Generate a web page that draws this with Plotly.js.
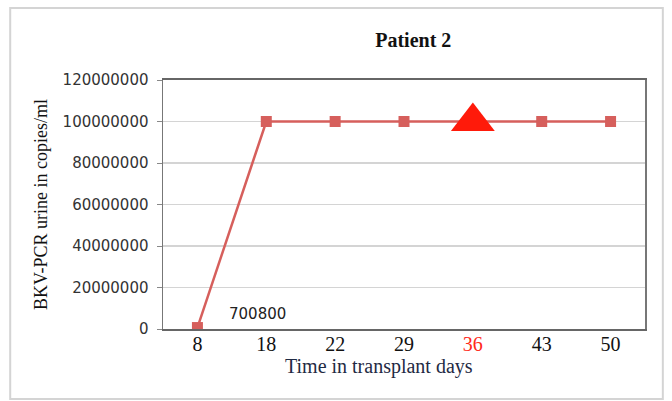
<!DOCTYPE html>
<html>
<head>
<meta charset="utf-8">
<script src="https://cdn.plot.ly/plotly-3.0.1.min.js"></script>
<style>
  html, body { margin: 0; padding: 0; background: #fff; }
  #chart { width: 672px; height: 401px; }
</style>
</head>
<body>
<div id="chart"></div>
<script>
"use strict";

// days after transplant (category axis) and BKV load in urine
const days = ["8", "18", "22", "29", "36", "43", "50"];
const copies = [700800, 100000000, 100000000, 100000000, 100000000, 100000000, 100000000];
const alertDays = ["36"];
const alertCopies = [100000000];
const yTicks = [0, 20000000, 40000000, 60000000, 80000000, 100000000, 120000000];
const firstLabel = "700800";

const serif = "Liberation Serif, Times New Roman, serif";
const sans = "DejaVu Sans, Arial, sans-serif";

const tickText = days.map(function (d) {
    return alertDays.indexOf(d) >= 0 ? '<span style="color:#ff2a1a">' + d + '</span>' : d;
});

const traces = [
    {
        x: days,
        y: copies,
        type: "scatter",
        mode: "lines+markers",
        line: { color: "#d65f5c", width: 2.5 },
        marker: { symbol: "square", size: 11, color: "#d65f5c" },
        hoverinfo: "x+y"
    },
    {
        x: alertDays,
        y: alertCopies,
        type: "scatter",
        mode: "markers",
        marker: { symbol: "triangle-up", size: 38, color: "#ff1a0a" },
        hoverinfo: "x+y"
    }
];

const layout = {
    width: 672,
    height: 401,
    margin: { l: 163, r: 27, t: 80, b: 72 },
    paper_bgcolor: "#ffffff",
    plot_bgcolor: "#ffffff",
    showlegend: false,
    title: {
        text: "<b>Patient 2</b>",
        font: { family: serif, size: 20, color: "#111" },
        x: 0.615,
        xanchor: "center",
        y: 0.9,
        yanchor: "middle"
    },
    xaxis: {
        type: "category",
        categoryorder: "array",
        categoryarray: days,
        tickvals: days,
        ticktext: tickText,
        range: [-0.5, days.length - 0.5],
        showgrid: false,
        zeroline: false,
        showline: true,
        mirror: true,
        linecolor: "#666",
        linewidth: 2,
        ticks: "",
        ticklabelstandoff: -4,
        tickfont: { family: serif, size: 20, color: "#111" }
    },
    yaxis: {
        range: [0, 120000000],
        tickvals: yTicks,
        ticktext: yTicks.map(String),
        showgrid: true,
        gridcolor: "#d4d4d4",
        gridwidth: 1.2,
        zeroline: false,
        showline: true,
        mirror: true,
        linecolor: "#777",
        linewidth: 1.5,
        ticks: "outside",
        ticklen: 5,
        tickcolor: "#888",
        ticklabelstandoff: 5,
        tickfont: { family: sans, size: 15, color: "#333" },
        title: {
            text: "BKV-PCR urine in copies/ml",
            font: { family: serif, size: 18, color: "#111" },
            standoff: 10
        }
    },
    annotations: [
        {
            x: 0,
            y: copies[0],
            xref: "x",
            yref: "y",
            text: firstLabel,
            showarrow: false,
            xshift: 60,
            yshift: 14,
            font: { family: sans, size: 15, color: "#222" }
        },
        {
            // x axis title, sits left of centre as in the original
            x: 0.448,
            y: -0.149,
            xref: "paper",
            yref: "paper",
            xanchor: "center",
            yanchor: "middle",
            text: "Time in transplant days",
            showarrow: false,
            font: { family: serif, size: 20, color: "#1f2a44" }
        }
    ],
    shapes: [
        {
            type: "rect",
            xref: "paper",
            yref: "paper",
            x0: -0.317,
            x1: 1.037,
            y0: -0.281,
            y1: 1.289,
            line: { color: "#d4d4d4", width: 2 },
            fillcolor: "rgba(0,0,0,0)",
            layer: "below"
        }
    ]
};

Plotly.newPlot("chart", traces, layout, { staticPlot: true, displayModeBar: false });
</script>
</body>
</html>
